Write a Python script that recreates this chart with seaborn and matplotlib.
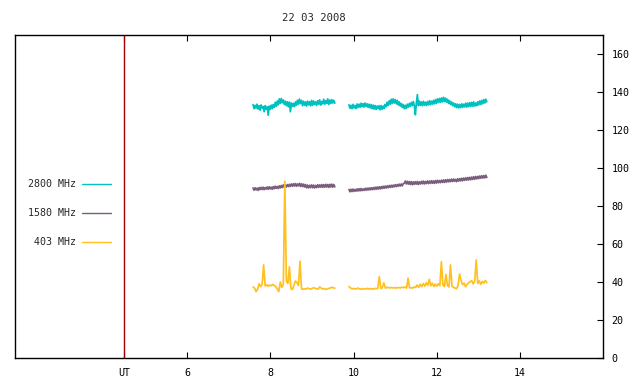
import numpy as np
import pandas as pd
import matplotlib
matplotlib.use("Agg")
import matplotlib.pyplot as plt
import seaborn as sns
from matplotlib.lines import Line2D

# ---------------- data ----------------
title = "22 03 2008"
series_names = ["2800 MHz", "1580 MHz", "403 MHz"]
series_colors = ["#00c0c0", "#7a5c7c", "#ffc020"]

seg1_start, seg1_end = 7.586, 9.55   # UT hours
seg2_start, seg2_end = 9.89, 13.20

f2800_seg1 = [133.4,131.2,133.0,131.5,133.6,131.0,132.8,130.4,133.2,131.6,
              132.4,129.6,132.8,131.0,132.2,127.8,132.6,130.8,133.1,131.2,
              133.4,131.9,134.6,132.4,135.3,133.2,136.4,134.0,136.6,134.3,
              135.8,133.4,135.2,132.8,134.9,132.2,134.7,129.6,134.2,132.4,
              134.0,132.3,134.8,133.0,135.7,133.6,136.3,133.9,135.6,132.8,
              135.1,133.0,134.8,132.6,135.2,133.2,134.9,132.7,135.6,133.0,
              135.3,133.4,134.8,132.9,135.4,133.6,135.9,133.1,135.0,133.8,
              136.2,133.6,135.5,134.0,136.4,133.4,135.8,133.9,136.0,134.2,
              135.6,134.1]
f2800_seg2 = [133.3,131.4,133.0,131.2,133.5,131.6,132.9,131.3,133.7,131.8,
              133.6,132.0,134.1,132.2,133.9,132.1,134.2,132.4,133.8,131.9,
              133.6,131.6,133.4,131.2,133.1,131.0,132.9,130.8,132.6,131.2,
              132.8,130.6,132.9,130.9,132.6,131.4,133.5,132.2,134.6,133.0,
              135.4,133.6,136.2,134.0,136.4,134.2,136.0,133.8,135.6,133.2,
              134.8,132.6,134.0,131.8,133.4,131.2,133.0,131.4,133.6,132.0,
              134.0,132.4,134.6,132.8,135.0,132.6,128.0,134.4,138.6,132.8,
              135.2,133.0,134.8,132.8,135.1,133.0,134.6,132.9,135.0,133.2,
              135.4,133.3,135.2,133.6,135.6,133.8,136.0,134.0,136.4,134.5,
              136.6,134.6,136.9,134.8,137.2,135.0,136.8,134.6,136.2,134.0,
              135.4,133.4,134.8,132.8,134.2,132.2,133.8,131.8,133.6,131.6,
              133.4,131.8,133.8,131.9,133.6,132.2,134.1,132.0,134.2,132.3,
              134.4,132.4,134.6,132.5,134.8,132.6,134.2,132.8,134.9,133.2,
              135.3,133.4,135.6,133.8,136.0,134.2,136.2,134.8]

f1580_seg1 = [89.5,88.3,89.6,88.5,89.4,88.2,89.7,88.6,89.8,88.7,
              89.9,88.6,89.7,88.9,90.0,88.8,90.1,89.0,89.9,88.8,
              90.2,89.1,90.4,89.3,90.3,89.2,90.6,89.5,90.8,89.7,
              91.1,89.9,91.0,90.0,91.3,90.2,91.4,90.3,91.6,90.4,
              91.7,90.5,91.8,90.4,91.6,90.6,91.9,90.3,91.7,90.2,
              91.5,90.0,91.3,89.6,91.0,89.5,90.9,89.7,91.1,89.6,
              91.0,89.5,90.8,89.7,91.2,89.8,91.1,89.9,91.3,89.8,
              91.2,89.9,91.4,90.0,91.3,89.8,91.4,90.0,91.5,89.9,
              91.3,90.1]
f1580_seg2 = [88.7,87.5,88.8,87.6,88.9,87.7,88.7,87.8,89.0,87.9,
              89.1,88.0,89.2,88.1,89.0,88.2,89.3,88.3,89.4,88.4,
              89.5,88.5,89.6,88.6,89.7,88.7,89.9,88.8,90.0,88.9,
              90.1,89.0,90.2,89.2,90.4,89.3,90.5,89.5,90.6,89.6,
              90.8,89.8,90.9,89.9,91.0,90.1,91.2,90.2,91.3,90.4,
              91.5,90.5,91.6,90.6,91.8,92.0,93.1,91.6,93.0,91.5,
              92.9,91.3,92.8,91.2,92.7,91.4,92.8,91.5,92.9,91.3,
              92.7,91.6,93.0,91.7,93.1,91.6,92.9,91.8,93.2,91.8,
              93.1,91.9,93.3,92.0,93.2,91.9,93.4,92.1,93.5,92.2,
              93.4,92.3,93.6,92.4,93.7,92.4,93.8,92.6,93.9,92.7,
              94.0,92.8,94.1,92.9,94.2,93.0,94.0,92.8,94.3,93.1,
              94.4,93.2,94.6,93.3,94.7,93.5,94.8,93.6,95.0,93.7,
              95.1,93.8,95.2,94.0,95.4,94.1,95.5,94.3,95.6,94.4,
              95.8,94.6,95.9,94.7,96.0,94.8,96.2,95.0]

f403_seg1 = [37.4,36.8,34.9,36.2,39.1,37.5,38.8,49.0,37.9,38.6,
             37.8,38.4,38.0,38.7,38.2,37.6,36.4,35.0,40.0,37.2,
             38.6,93.0,40.5,39.2,48.0,36.5,36.0,38.4,40.5,39.6,
             38.2,51.0,36.4,36.2,36.4,36.3,36.8,36.5,36.2,36.6,
             37.0,36.7,36.4,36.3,37.4,36.8,36.3,36.5,36.1,36.3,
             36.6,36.9,37.2,37.0,36.7]
f403_seg2 = [37.6,36.9,36.4,36.6,36.3,36.5,36.8,36.4,36.2,36.5,
             36.3,36.4,36.6,36.3,36.5,36.4,36.3,36.6,36.5,36.7,
             42.8,36.6,37.0,39.5,36.8,37.2,37.0,36.9,37.1,36.9,
             37.0,36.8,37.1,37.0,36.9,37.3,37.0,37.4,36.8,42.0,
             36.9,37.0,36.8,37.4,37.1,38.4,37.2,38.8,37.6,39.2,
             37.8,39.6,38.2,41.4,38.0,39.4,37.6,38.9,37.8,39.1,
             38.0,50.7,38.4,37.6,44.0,38.2,37.4,49.0,37.8,37.2,
             36.8,36.5,38.2,44.2,40.8,38.6,39.4,37.5,38.8,39.6,
             40.2,40.7,39.0,40.4,51.6,39.2,40.6,38.8,40.3,39.4,
             40.8,39.6]

ut_marker = 4.49
x_ticks = [ut_marker, 6, 8, 10, 12, 14]
x_tick_labels = ["UT", "6", "8", "10", "12", "14"]
y_ticks = [0, 20, 40, 60, 80, 100, 120, 140, 160]

# ---------------- table ----------------
rows = []
for name, s1, s2 in [(series_names[0], f2800_seg1, f2800_seg2),
                     (series_names[1], f1580_seg1, f1580_seg2),
                     (series_names[2], f403_seg1, f403_seg2)]:
    t1 = np.linspace(seg1_start, seg1_end, len(s1))
    t2 = np.linspace(seg2_start, seg2_end, len(s2))
    for t, v in zip(t1, s1):
        rows.append((name, name + "_a", t, v))
    for t, v in zip(t2, s2):
        rows.append((name, name + "_b", t, v))
df = pd.DataFrame(rows, columns=["series", "seg", "t", "flux"])

# ---------------- plot ----------------
sns.set_style("white")
plt.rcParams["font.family"] = ["DejaVu Sans Mono", "DejaVu Sans"]
plt.rcParams["font.size"] = 7.2

fig = plt.figure(figsize=(6.4, 3.84), dpi=100)
ax = fig.add_axes([15/640, 1-358/384, (603-15)/640, (358-35)/384])

palette = dict(zip(series_names, series_colors))
sns.lineplot(data=df, x="t", y="flux", hue="series", units="seg",
             estimator=None, palette=palette, linewidth=1.25,
             hue_order=series_names, legend=False, ax=ax, sort=False)

ax.axvline(ut_marker, color="#a00000", linewidth=1.0)

ax.set_xlim(1.87, 15.99)
ax.set_ylim(0, 170)
ax.set_xlabel("")
ax.set_ylabel("")

for sp in ax.spines.values():
    sp.set_color("black")
    sp.set_linewidth(1.0)

ax.set_xticks(x_ticks)
ax.set_xticklabels(x_tick_labels)
ax.tick_params(axis="x", direction="in", top=True, bottom=True, length=4,
               width=0.8, pad=7, labelsize=7.2, colors="black")
ax.yaxis.tick_right()
ax.set_yticks(y_ticks)
ax.set_yticklabels([str(v) for v in y_ticks])
ax.tick_params(axis="y", direction="in", left=False, right=True, length=4,
               width=0.8, pad=6, labelsize=7.2, colors="black")

handles = [Line2D([0], [0], color=c, linewidth=1.0) for c in series_colors]
ax.legend(handles, series_names, loc="center right", markerfirst=False,
          frameon=False, bbox_to_anchor=(111/640, 1-213/384),
          bbox_transform=fig.transFigure, borderaxespad=0, borderpad=0,
          handlelength=2.9, handletextpad=0.6, labelspacing=1.9,
          fontsize=7.2)

fig.text(314/640, 1-18/384, title, ha="center", va="center", fontsize=7.6)

fig.savefig("out.png", dpi=100)
